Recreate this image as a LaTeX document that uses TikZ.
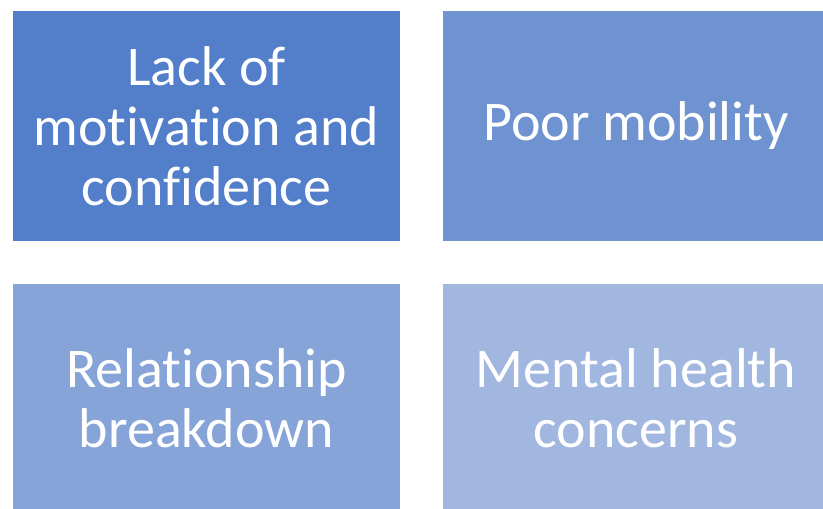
\documentclass[tikz,border=0pt]{standalone}
\usepackage{fontspec}
\setmainfont[Ligatures={NoCommon}]{Carlito}
\definecolor{tileA}{HTML}{527ECA}
\definecolor{tileB}{HTML}{6F93D1}
\definecolor{tileC}{HTML}{87A4D9}
\definecolor{tileD}{HTML}{A1B7E0}
\begin{document}
\begin{tikzpicture}
                [x=1pt, y=-1pt,
                 tile/.style={rectangle, draw=white, line width=0.8pt, minimum width=388pt, minimum height=231.5pt, inner sep=0pt,
                   text=white, align=center, font=\fontsize{56}{60}\selectfont}]
                \clip (0,0) rectangle (823,509);
                % Define tiles
                \node[tile, fill=tileA] (motivation) at (206.5,125.75) {Lack of\\motivation and\\confidence};
                \node[tile, fill=tileB] (mobility) at (636,125.75) {Poor mobility};
                \node[tile, fill=tileC] (relationship) at (206.5,398.75) {Relationship\\breakdown};
                \node[tile, fill=tileD] (mental) at (636,398.75) {Mental health\\concerns};
            \end{tikzpicture}
\end{document}
